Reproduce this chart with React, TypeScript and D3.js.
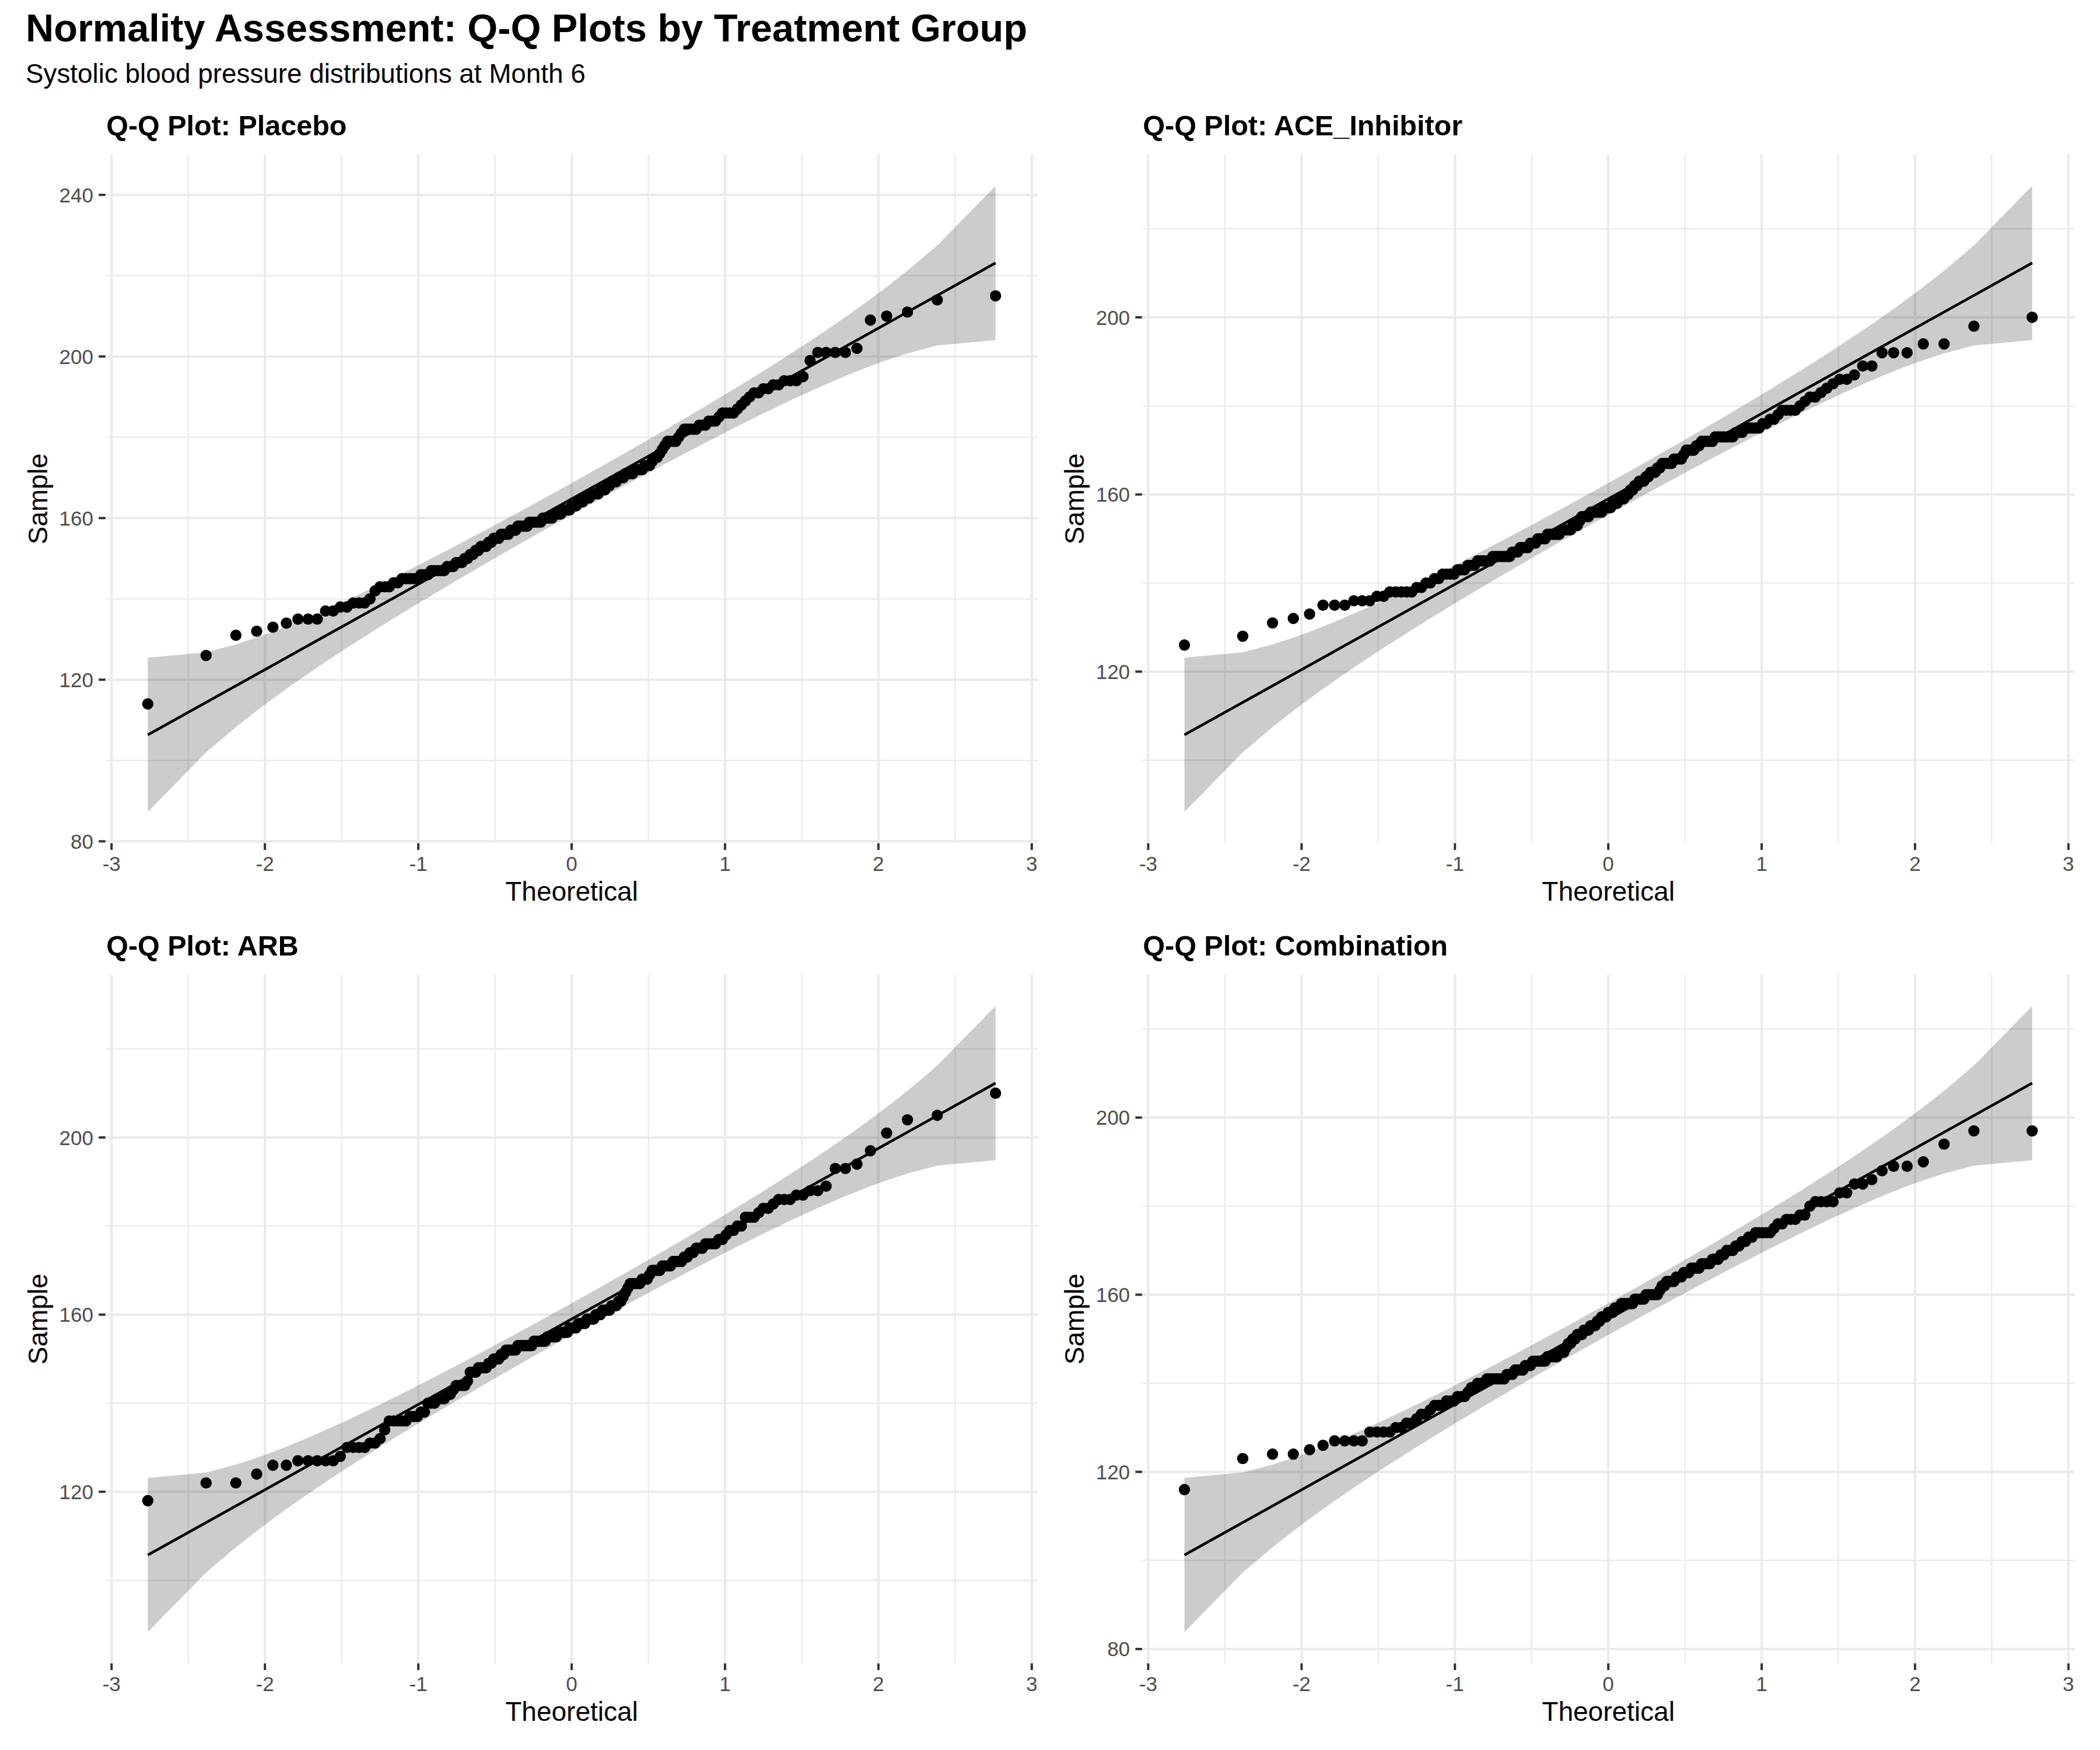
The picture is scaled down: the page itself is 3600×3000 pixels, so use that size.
import React from "react";
import * as d3 from "d3";

// ---------------- Data (sorted systolic BP values) ----------------
const placebo: number[] = [
  114, 126, 131, 132, 133, 134, 135, 135, 135, 137,
  137, 138, 138, 139, 139, 139, 140, 142, 143, 143,
  143, 144, 144, 145, 145, 145, 145, 145, 146, 146,
  146, 147, 147, 147, 147, 147, 148, 148, 148, 149,
  149, 149, 150, 150, 151, 151, 152, 152, 153, 153,
  153, 154, 154, 155, 155, 155, 156, 156, 156, 156,
  157, 157, 157, 158, 158, 158, 158, 158, 159, 159,
  159, 159, 159, 159, 160, 160, 160, 160, 160, 161,
  161, 161, 161, 162, 162, 162, 162, 163, 163, 163,
  164, 164, 164, 165, 165, 165, 166, 166, 166, 166,
  167, 167, 167, 168, 168, 169, 169, 169, 170, 170,
  170, 171, 171, 171, 171, 172, 172, 172, 172, 173,
  173, 173, 174, 175, 175, 176, 177, 178, 179, 179,
  179, 179, 180, 181, 182, 182, 182, 182, 182, 183,
  183, 183, 184, 184, 184, 185, 186, 186, 186, 186,
  187, 188, 189, 190, 191, 191, 192, 192, 193, 193,
  194, 194, 194, 195, 199, 201, 201, 201, 201, 202,
  209, 210, 211, 214, 215,
];

const aceInhibitor: number[] = [
  126, 128, 131, 132, 133, 135, 135, 135, 136, 136,
  136, 137, 137, 138, 138, 138, 138, 138, 139, 139,
  140, 140, 141, 141, 142, 142, 142, 142, 143, 143,
  143, 144, 144, 144, 145, 145, 145, 145, 145, 146,
  146, 146, 146, 146, 146, 146, 147, 147, 147, 148,
  148, 148, 148, 149, 149, 149, 150, 150, 150, 150,
  151, 151, 151, 151, 151, 151, 152, 152, 152, 152,
  152, 153, 153, 153, 154, 155, 155, 155, 155, 156,
  156, 156, 156, 156, 156, 157, 157, 157, 157, 158,
  158, 158, 159, 159, 159, 160, 160, 161, 161, 162,
  162, 163, 163, 163, 164, 164, 165, 165, 165, 166,
  166, 167, 167, 167, 167, 167, 168, 168, 168, 168,
  169, 170, 170, 170, 170, 171, 171, 172, 172, 172,
  172, 172, 173, 173, 173, 173, 173, 173, 173, 174,
  174, 174, 175, 175, 175, 175, 175, 176, 176, 177,
  177, 178, 179, 179, 179, 179, 180, 181, 182, 182,
  183, 184, 185, 186, 186, 187, 189, 189, 192, 192,
  192, 194, 194, 198, 200,
];

const arb: number[] = [
  118, 122, 122, 124, 126, 126, 127, 127, 127, 127,
  127, 128, 130, 130, 130, 130, 131, 131, 132, 134,
  136, 136, 136, 136, 136, 137, 137, 137, 138, 138,
  140, 140, 140, 141, 141, 141, 142, 142, 143, 144,
  144, 144, 144, 145, 147, 147, 147, 148, 148, 148,
  148, 149, 149, 150, 150, 150, 151, 151, 152, 152,
  152, 152, 152, 153, 153, 153, 153, 153, 153, 153,
  154, 154, 154, 154, 154, 154, 155, 155, 155, 155,
  155, 156, 156, 156, 156, 156, 157, 157, 157, 157,
  158, 158, 158, 158, 159, 159, 159, 159, 160, 160,
  160, 161, 161, 161, 161, 162, 162, 162, 163, 163,
  164, 165, 166, 167, 167, 167, 167, 167, 168, 168,
  168, 169, 170, 170, 170, 170, 171, 171, 171, 171,
  172, 172, 172, 172, 173, 173, 174, 174, 175, 175,
  175, 176, 176, 176, 176, 177, 177, 178, 179, 179,
  180, 180, 182, 182, 182, 183, 184, 184, 185, 186,
  186, 186, 187, 187, 188, 188, 189, 193, 193, 194,
  197, 201, 204, 205, 210,
];

const combination: number[] = [
  116, 123, 124, 124, 125, 126, 127, 127, 127, 127,
  129, 129, 129, 129, 130, 130, 131, 131, 132, 133,
  133, 134, 135, 135, 135, 136, 136, 136, 137, 137,
  137, 138, 139, 139, 140, 140, 140, 141, 141, 141,
  141, 141, 141, 141, 142, 142, 142, 143, 143, 143,
  143, 144, 144, 144, 145, 145, 145, 145, 145, 145,
  146, 146, 146, 146, 146, 147, 147, 147, 148, 149,
  149, 150, 150, 151, 151, 151, 152, 152, 152, 153,
  153, 153, 154, 154, 155, 155, 155, 156, 156, 156,
  157, 157, 157, 158, 158, 158, 158, 158, 158, 159,
  159, 159, 159, 159, 160, 160, 160, 160, 160, 160,
  161, 162, 162, 163, 163, 163, 163, 164, 164, 164,
  165, 165, 165, 166, 166, 166, 166, 167, 167, 167,
  167, 168, 168, 168, 169, 169, 170, 170, 170, 171,
  171, 172, 172, 173, 173, 174, 174, 174, 174, 174,
  175, 176, 176, 177, 177, 177, 178, 178, 180, 181,
  181, 181, 181, 183, 183, 185, 185, 186, 188, 189,
  189, 190, 194, 197, 197,
];

const groupNames: string[] = ["Placebo", "ACE_Inhibitor", "ARB", "Combination"];
const groupValues: number[][] = [placebo, aceInhibitor, arb, combination];

const xTickValues: number[] = [-3, -2, -1, 0, 1, 2, 3];
const xMinorValues: number[] = [-2.5, -1.5, -0.5, 0.5, 1.5, 2.5];
const yTickValues: number[] = [80, 120, 160, 200, 240];
const yMinorValues: number[] = [60, 100, 140, 180, 220, 260];

const titleText = "Normality Assessment: Q-Q Plots by Treatment Group";
const subtitleText = "Systolic blood pressure distributions at Month 6";

// ---------------- Layout / style ----------------
const W = 3600;
const H = 3000;
const FONT = "'Liberation Sans', Arial, Helvetica, sans-serif";
const COL_LEFT = [180.7, 1957.8];
const ROW_TOP = [265, 1671];
const PANEL_W = 1598.6;
const PANEL_H = 1180.5;

// ---------------- Stats helpers ----------------
function qnorm(p: number): number {
  const a = [-3.969683028665376e1, 2.209460984245205e2, -2.759285104469687e2, 1.38357751867269e2, -3.066479806614716e1, 2.506628277459239];
  const b = [-5.447609879822406e1, 1.615858368580409e2, -1.556989798598866e2, 6.680131188771972e1, -1.328068155288572e1];
  const c = [-7.784894002430293e-3, -3.223964580411365e-1, -2.400758277161838, -2.549732539343734, 4.374664141464968, 2.938163982698783];
  const d = [7.784695709041462e-3, 3.224671290700398e-1, 2.445134137142996, 3.754408661907416];
  const pl = 0.02425;
  const ph = 1 - pl;
  if (p < pl) {
    const q = Math.sqrt(-2 * Math.log(p));
    return (((((c[0] * q + c[1]) * q + c[2]) * q + c[3]) * q + c[4]) * q + c[5]) / ((((d[0] * q + d[1]) * q + d[2]) * q + d[3]) * q + 1);
  }
  if (p <= ph) {
    const q = p - 0.5;
    const r = q * q;
    return ((((((a[0] * r + a[1]) * r + a[2]) * r + a[3]) * r + a[4]) * r + a[5]) * q) / (((((b[0] * r + b[1]) * r + b[2]) * r + b[3]) * r + b[4]) * r + 1);
  }
  const q = Math.sqrt(-2 * Math.log(1 - p));
  return -(((((c[0] * q + c[1]) * q + c[2]) * q + c[3]) * q + c[4]) * q + c[5]) / ((((d[0] * q + d[1]) * q + d[2]) * q + d[3]) * q + 1);
}
const dnorm = (x: number) => Math.exp(-0.5 * x * x) / Math.sqrt(2 * Math.PI);

type QQ = {
  theo: number[];
  sample: number[];
  lower: number[];
  upper: number[];
  fit: number[];
};

function computeQQ(values: number[]): QQ {
  const sample = [...values].sort((a, b) => a - b);
  const n = sample.length;
  const probs = sample.map((_, i) => (i + 0.5) / n);
  const theo = probs.map(qnorm);
  const yq1 = d3.quantile(sample, 0.25) as number;
  const yq3 = d3.quantile(sample, 0.75) as number;
  const xq1 = qnorm(0.25);
  const xq3 = qnorm(0.75);
  const slope = (yq3 - yq1) / (xq3 - xq1);
  const intercept = yq1 - slope * xq1;
  const z = qnorm(0.975);
  const fit = theo.map((t) => intercept + slope * t);
  const se = theo.map((t, i) => (slope / dnorm(t)) * Math.sqrt((probs[i] * (1 - probs[i])) / n));
  const lower = fit.map((f, i) => f - z * se[i]);
  const upper = fit.map((f, i) => f + z * se[i]);
  return { theo, sample, lower, upper, fit };
}

// ---------------- Panel ----------------
function Panel({ name, values, left, top }: { name: string; values: number[]; left: number; top: number }) {
  const qq = computeQQ(values);
  const n = qq.theo.length;
  const xmin = qq.theo[0];
  const xmax = qq.theo[n - 1];
  const xpad = (xmax - xmin) * 0.05;
  const x = d3.scaleLinear().domain([xmin - xpad, xmax + xpad]).range([left, left + PANEL_W]);

  const ylo = Math.min(d3.min(qq.lower) as number, d3.min(qq.sample) as number);
  const yhi = Math.max(d3.max(qq.upper) as number, d3.max(qq.sample) as number);
  const ypad = (yhi - ylo) * 0.05;
  const yDom: [number, number] = [ylo - ypad, yhi + ypad];
  const y = d3.scaleLinear().domain(yDom).range([top + PANEL_H, top]);

  const inX = (v: number) => v >= x.domain()[0] && v <= x.domain()[1];
  const inY = (v: number) => v >= yDom[0] && v <= yDom[1];

  const idx = d3.range(n);
  const area = d3
    .area<number>()
    .x((i) => x(qq.theo[i]))
    .y0((i) => y(qq.lower[i]))
    .y1((i) => y(qq.upper[i]));
  const bottom = top + PANEL_H;
  const cx = left + PANEL_W / 2;
  const cy = top + PANEL_H / 2;

  return (
    <g>
      {/* grid */}
      {yMinorValues.filter(inY).map((v) => (
        <line key={"ym" + v} x1={left} x2={left + PANEL_W} y1={y(v)} y2={y(v)} stroke="#EBEBEB" strokeWidth={2.4} />
      ))}
      {xMinorValues.filter(inX).map((v) => (
        <line key={"xm" + v} x1={x(v)} x2={x(v)} y1={top} y2={bottom} stroke="#EBEBEB" strokeWidth={2.4} />
      ))}
      {yTickValues.filter(inY).map((v) => (
        <line key={"yM" + v} x1={left} x2={left + PANEL_W} y1={y(v)} y2={y(v)} stroke="#EBEBEB" strokeWidth={4.4} />
      ))}
      {xTickValues.filter(inX).map((v) => (
        <line key={"xM" + v} x1={x(v)} x2={x(v)} y1={top} y2={bottom} stroke="#EBEBEB" strokeWidth={4.4} />
      ))}

      {/* confidence band */}
      <path d={area(idx) as string} fill="#000000" fillOpacity={0.2} stroke="none" />

      {/* points */}
      {idx.map((i) => (
        <circle key={"p" + i} cx={x(qq.theo[i])} cy={y(qq.sample[i])} r={9.7} fill="#000000" />
      ))}

      {/* reference line */}
      <line x1={x(qq.theo[0])} y1={y(qq.fit[0])} x2={x(qq.theo[n - 1])} y2={y(qq.fit[n - 1])} stroke="#000000" strokeWidth={4.5} />

      {/* axes ticks & labels */}
      {yTickValues.filter(inY).map((v) => (
        <g key={"yt" + v}>
          <line x1={left - 11.5} x2={left} y1={y(v)} y2={y(v)} stroke="#333333" strokeWidth={4} />
          <text x={left - 20.7} y={y(v)} dy="0.36em" textAnchor="end" fontFamily={FONT} fontSize={35} fill="#4D4D4D">
            {v}
          </text>
        </g>
      ))}
      {xTickValues.filter(inX).map((v) => (
        <g key={"xt" + v}>
          <line x1={x(v)} x2={x(v)} y1={bottom} y2={bottom + 11.5} stroke="#333333" strokeWidth={4} />
          <text x={x(v)} y={bottom + 47} textAnchor="middle" fontFamily={FONT} fontSize={35} fill="#4D4D4D">
            {v}
          </text>
        </g>
      ))}

      <text x={cx} y={bottom + 98} textAnchor="middle" fontFamily={FONT} fontSize={46} fill="#000000">
        Theoretical
      </text>
      <text
        transform={`translate(${left - 100},${cy}) rotate(-90)`}
        textAnchor="middle"
        fontFamily={FONT}
        fontSize={46}
        fill="#000000"
      >
        Sample
      </text>
      <text x={left + 1.5} y={top - 33.5} fontFamily={FONT} fontSize={48.5} fontWeight="bold" fill="#000000">
        {`Q-Q Plot: ${name}`}
      </text>
    </g>
  );
}

export default function App() {
  return (
    <svg
      width={W}
      height={H}
      viewBox={`0 0 ${W} ${H}`}
      style={{ position: "absolute", left: 0, top: 0, display: "block", background: "#FFFFFF" }}
    >
      <rect x={0} y={0} width={W} height={H} fill="#FFFFFF" />
      <text x={44} y={70.7} fontFamily={FONT} fontSize={66.7} fontWeight="bold" fill="#000000">
        {titleText}
      </text>
      <text x={44} y={141.5} fontFamily={FONT} fontSize={45.8} fill="#000000">
        {subtitleText}
      </text>
      {groupNames.map((g, k) => (
        <Panel key={g} name={g} values={groupValues[k]} left={COL_LEFT[k % 2]} top={ROW_TOP[Math.floor(k / 2)]} />
      ))}
    </svg>
  );
}
